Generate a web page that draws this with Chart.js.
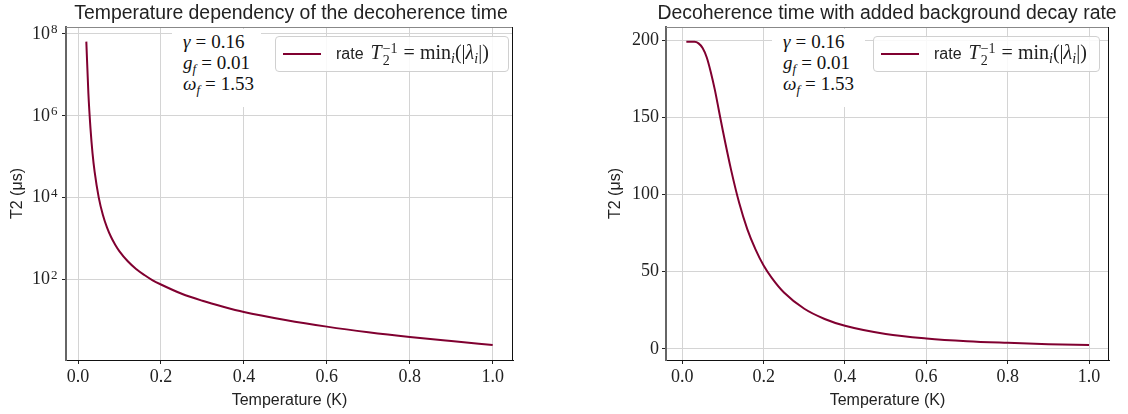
<!DOCTYPE html>
<html>
<head>
<meta charset="utf-8">
<script src="https://cdn.jsdelivr.net/npm/chart.js@4"></script>
<style>
  body { margin: 0; background: #fff; width: 1128px; height: 414px; position: relative; overflow: hidden; }
  canvas { position: absolute; top: 0; }
  .title { position: absolute; top: 0; font: 19.4px "Liberation Sans", sans-serif; color: #222; white-space: nowrap; transform: translateX(-50%); line-height: 24px; }
  .note { position: absolute; background: #fff; font: 19px "Liberation Serif", serif; color: #111; line-height: 21px; padding: 2px 0 0 11px; white-space: nowrap; }
  .note i { font-style: italic; }
  .note sub { font-size: 13px; vertical-align: -4px; line-height: 0; }
  .eq { margin: 0 5px; }
  .legend { position: absolute; background: rgba(255,255,255,0.85); border: 1px solid #d0d0d0; border-radius: 4px; box-sizing: border-box; font: 16px "Liberation Sans", sans-serif; color: #222; white-space: nowrap; display: flex; align-items: center; }
  .legend .sw { display: inline-block; width: 38px; height: 2px; background: #800030; margin: 0 15px 0 7px; }
  .legend .m { font-family: "Liberation Serif", serif; font-size: 20px; margin-left: 7px; }
  .legend .ss { display: inline-flex; flex-direction: column; font-size: 14px; line-height: 12px; vertical-align: middle; margin: 0 1px 0 1px; }
  .legend sub { font-size: 14px; vertical-align: -4px; line-height: 0; }
</style>
</head>
<body>
<canvas id="leftChart" width="560" height="414" style="left:0;width:560px;height:414px"></canvas>
<canvas id="rightChart" width="568" height="414" style="left:560px;width:568px;height:414px"></canvas>

<div class="title" style="left:291px">Temperature dependency of the decoherence time</div>
<div class="title" style="left:887px">Decoherence time with added background decay rate</div>

<div class="note" style="left:172px;top:29px;width:78px;height:76px">
  <i>γ</i><span class="eq">=</span>0.16<br><i>g</i><sub><i>f</i></sub><span class="eq">=</span>0.01<br><i>ω</i><sub><i>f</i></sub><span class="eq">=</span>1.53
</div>
<div class="note" style="left:772px;top:29px;width:82px;height:76px">
  <i>γ</i><span class="eq">=</span>0.16<br><i>g</i><sub><i>f</i></sub><span class="eq">=</span>0.01<br><i>ω</i><sub><i>f</i></sub><span class="eq">=</span>1.53
</div>

<div class="legend" style="left:275px;top:36px;width:234px;height:36px">
  <span class="sw"></span>rate<span class="m"><i>T</i><span class="ss"><span>−1</span><span>2</span></span><span class="eq">=</span>min<sub><i>i</i></sub>(|<i>λ</i><sub><i>i</i></sub>|)</span>
</div>
<div class="legend" style="left:873px;top:36px;width:227px;height:36px">
  <span class="sw"></span>rate<span class="m"><i>T</i><span class="ss"><span>−1</span><span>2</span></span><span class="eq">=</span>min<sub><i>i</i></sub>(|<i>λ</i><sub><i>i</i></sub>|)</span>
</div>

<script>
// ---- data ----
var tempLeft = [0.02, 0.025, 0.03, 0.035, 0.04, 0.05, 0.06, 0.07, 0.08, 0.09, 0.10, 0.12, 0.14, 0.16, 0.18, 0.20, 0.25, 0.30, 0.35, 0.40, 0.50, 0.60, 0.70, 0.80, 0.90, 1.00];
var t2Left = [6.5e7, 3.5e6, 5.0e5, 1.2e5, 4.3e4, 1.0e4, 3750, 1840, 1070, 695, 485, 277, 180, 128, 95, 75, 44.5, 30, 21.5, 16, 10.2, 7.0, 5.1, 3.9, 3.1, 2.5];

var tempRight = [0.01, 0.02, 0.03, 0.04, 0.05, 0.06, 0.07, 0.08, 0.09, 0.10, 0.12, 0.14, 0.16, 0.18, 0.20, 0.22, 0.25, 0.30, 0.35, 0.40, 0.50, 0.60, 0.70, 0.80, 0.90, 1.00];
var t2Right = [199, 199, 199, 198, 195, 189, 179.5, 168, 154.5, 141, 116, 94.5, 77.5, 64.5, 54, 46, 36.5, 26, 19.4, 15, 9.7, 6.8, 5.0, 3.9, 3.0, 2.5];

var xTicks = [0, 0.2, 0.4, 0.6, 0.8, 1.0];
var yTicksLog = [1e2, 1e4, 1e6, 1e8];
var yTickExp = ['2', '4', '6', '8'];
var yTicksLin = [0, 50, 100, 150, 200];

var LINE = '#800030';
var GRID = '#d4d4d4';
var serif = '"Liberation Serif", serif';
var sans = '"Liberation Sans", sans-serif';

// frame: top / right spines
var framePlugin = {
    id: 'frame',
    afterDatasetsDraw: function(chart) {
        var a = chart.chartArea, ctx = chart.ctx;
        ctx.save();
        ctx.lineWidth = 1;
        ctx.strokeStyle = '#888';
        ctx.beginPath(); ctx.moveTo(a.left, a.top + 0.5); ctx.lineTo(a.right, a.top + 0.5); ctx.stroke();
        ctx.strokeStyle = '#111';
        ctx.beginPath(); ctx.moveTo(a.right - 0.5, a.top); ctx.lineTo(a.right - 0.5, a.bottom); ctx.stroke();
        ctx.restore();
    }
};

// exponents for the 10^n labels of the log axis
var expPlugin = {
    id: 'exps',
    afterDraw: function(chart) {
        var s = chart.scales.y;
        if (s.type !== 'logarithmic') return;
        var ctx = chart.ctx;
        ctx.save();
        ctx.fillStyle = '#222';
        ctx.font = '13px ' + serif;
        ctx.textAlign = 'left';
        ctx.textBaseline = 'middle';
        yTicksLog.forEach(function(v, i) {
            ctx.fillText(yTickExp[i], s.right - 15, s.getPixelForValue(v) - 4);
        });
        ctx.restore();
    }
};

function pairs(xs, ys) {
    return xs.map(function(x, i) { return { x: x, y: ys[i] }; });
}

function makeChart(id, opts) {
    return new Chart(document.getElementById(id).getContext('2d'), {
        type: 'line',
        data: {
            datasets: [{
                data: opts.data,
                borderColor: LINE,
                borderWidth: 2,
                pointRadius: 0,
                cubicInterpolationMode: 'monotone',
                fill: false
            }]
        },
        options: {
            responsive: false,
            animation: false,
            layout: { padding: { top: 27, right: opts.padRight, left: opts.padLeft, bottom: 0 } },
            plugins: { legend: { display: false }, tooltip: { enabled: false } },
            scales: {
                x: {
                    type: 'linear',
                    min: opts.xMin, max: opts.xMax,
                    afterBuildTicks: function(s) { s.ticks = xTicks.map(function(v) { return { value: v }; }); },
                    afterFit: function(s) { s.height = 54; },
                    ticks: { color: '#222', font: { family: serif, size: 18 }, padding: 2, maxRotation: 0,
                             callback: function(v) { return v.toFixed(1); } },
                    grid: { color: GRID, lineWidth: 1, tickLength: 4, tickColor: '#222' },
                    border: { color: '#111', width: 1 },
                    title: { display: true, text: 'Temperature (K)', color: '#222', font: { family: sans, size: 16 }, padding: { top: 0 } }
                },
                y: opts.y
            }
        },
        plugins: [framePlugin, expPlugin]
    });
}

makeChart('leftChart', {
    data: pairs(tempLeft, t2Left),
    xMin: -0.029, xMax: 1.049,
    padLeft: 8, padRight: 47,
    y: {
        type: 'logarithmic',
        min: 1.07, max: 1.48e8,
        afterBuildTicks: function(s) { s.ticks = yTicksLog.map(function(v) { return { value: v }; }); },
        afterFit: function(s) { s.width = 58; },
        ticks: { color: '#222', font: { family: serif, size: 18 }, padding: 12,
                 callback: function() { return '10'; } },
        grid: { color: GRID, lineWidth: 1, tickLength: 4, tickColor: '#222' },
        border: { color: '#666', width: 2 },
        title: { display: true, text: 'T2 (\u03BCs)', color: '#222', font: { family: sans, size: 16 }, padding: { bottom: 0, top: 0 } }
    }
});

makeChart('rightChart', {
    data: pairs(tempRight, t2Right),
    xMin: -0.04, xMax: 1.049,
    padLeft: 46, padRight: 19,
    y: {
        type: 'linear',
        min: -7.2, max: 208.6,
        afterBuildTicks: function(s) { s.ticks = yTicksLin.map(function(v) { return { value: v }; }); },
        afterFit: function(s) { s.width = 60; },
        ticks: { color: '#222', font: { family: serif, size: 18 }, padding: 3 },
        grid: { color: GRID, lineWidth: 1, tickLength: 4, tickColor: '#222' },
        border: { color: '#666', width: 2 },
        title: { display: true, text: 'T2 (\u03BCs)', color: '#222', font: { family: sans, size: 16 }, padding: { bottom: 0, top: 0 } }
    }
});
</script>
</body>
</html>
